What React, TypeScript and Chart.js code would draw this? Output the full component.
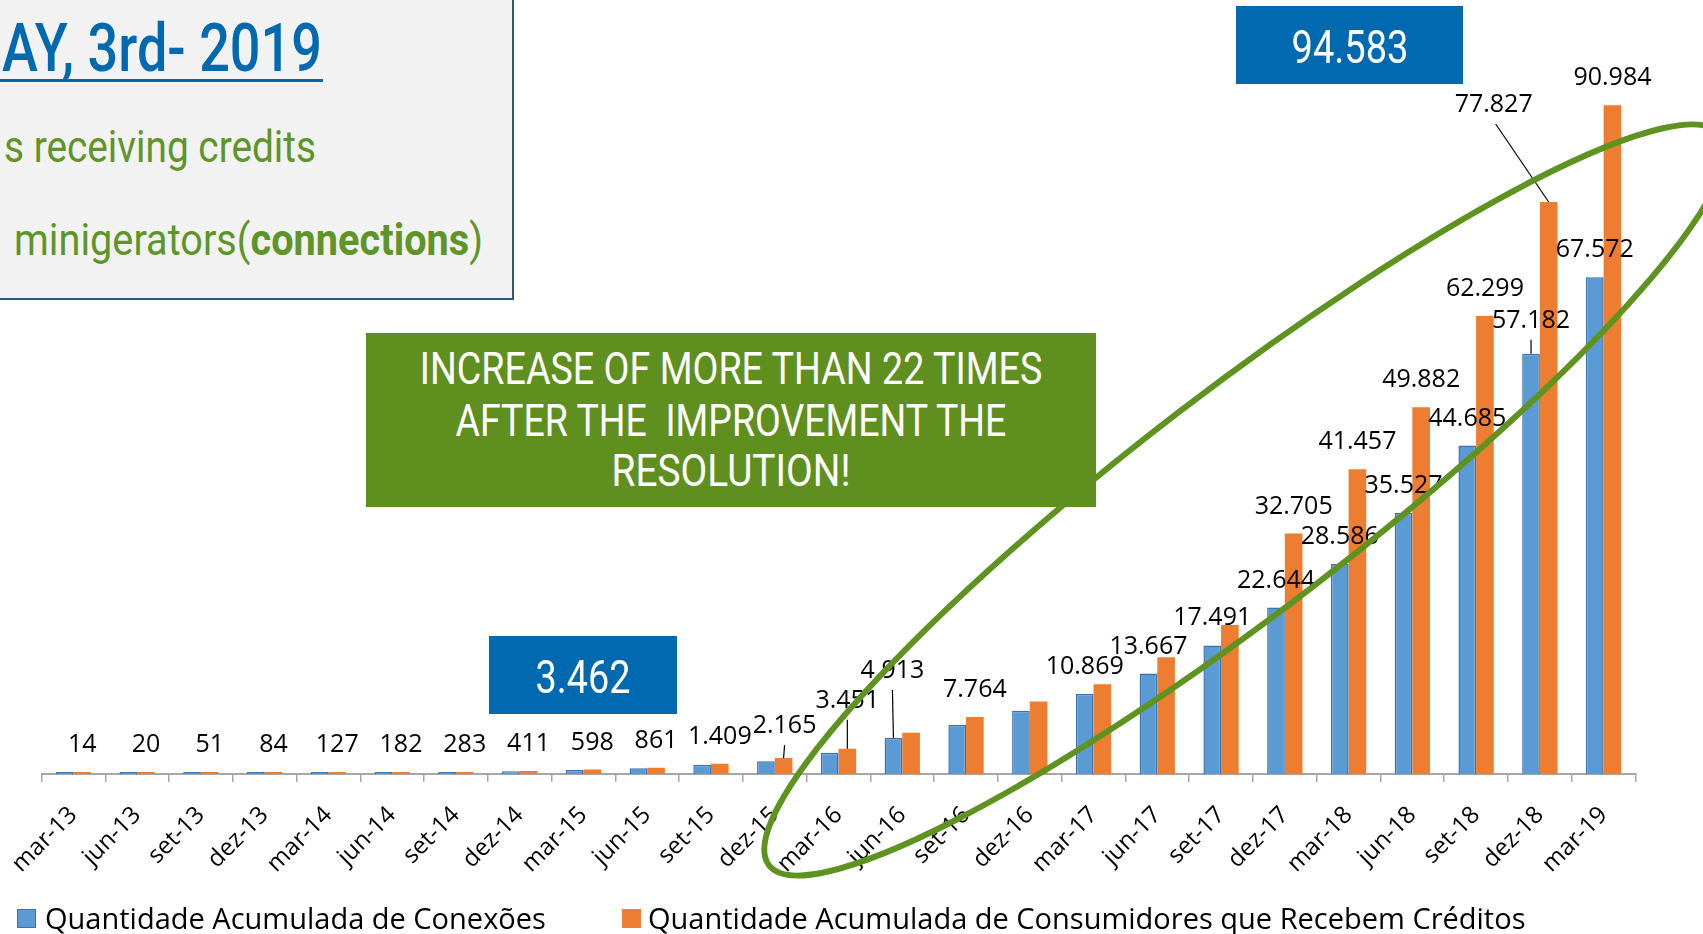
import React, { useEffect, useRef } from "react";
import { Chart, registerables } from "chart.js";

Chart.register(...registerables);

// ---------- data ----------
const categories = [
  "mar-13", "jun-13", "set-13", "dez-13", "mar-14", "jun-14", "set-14", "dez-14",
  "mar-15", "jun-15", "set-15", "dez-15", "mar-16", "jun-16", "set-16", "dez-16",
  "mar-17", "jun-17", "set-17", "dez-17", "mar-18", "jun-18", "set-18", "dez-18", "mar-19",
];

const conexoes = [
  9, 16, 40, 72, 112, 165, 255, 385, 555, 790, 1250, 1731, 2900, 4913, 6650, 8600,
  10869, 13667, 17491, 22644, 28586, 35527, 44685, 57182, 67572,
];

const consumidores = [
  14, 20, 51, 84, 127, 182, 283, 411, 598, 861, 1409, 2165, 3451, 5600, 7764, 9850,
  12200, 15880, 20270, 32705, 41457, 49882, 62299, 77827, 90984,
];

// which bars carry a value label
const conexoesLabelled = [
  false, false, false, false, false, false, false, false, false, false, false, false, false,
  true, false, false, true, true, true, true, true, true, true, true, true,
];
const consumidoresLabelled = [
  true, true, true, true, true, true, true, true, true, true, true, true, true,
  false, true, false, false, false, false, true, true, true, true, true, true,
];

const seriesNames = [
  "Quantidade Acumulada de Conexões",
  "Quantidade Acumulada de Consumidores que Recebem Créditos",
];

const titleText = "AY, 3rd- 2019";
const subtitleLine1 = "s receiving credits";
const subtitleLine2 = ["minigerators(", "connections", ")"];
const totalBadge = "94.583";
const startBadge = "3.462";
const calloutLines = ["INCREASE OF MORE THAN 22 TIMES", "AFTER THE  IMPROVEMENT THE", "RESOLUTION!"];

// labels that were dragged away from their bar (dx, dy in px), key = dataset-index
const movedLabels: Record<string, [number, number]> = {
  "1-11": [1, -5],
  "1-12": [0, -21],
  "1-23": [-55, -70],
  "0-13": [-1, -40],
  "0-23": [0, -6],
};

// ---------- styles ----------
const BLUE = "#5B9BD5";
const BLUE_EDGE = "#3A72B0";
const ORANGE = "#ED7D31";
const GREEN = "#5F8F1F";
const GREEN_TEXT = "#5F9428";
const BADGE_BLUE = "#0069AF";

function fmt(v: number): string {
  return String(v).replace(/\B(?=(\d{3})+(?!\d))/g, ".");
}

let mctx: CanvasRenderingContext2D | null = null;
function textWidth(text: string, font: string): number {
  if (!mctx) mctx = document.createElement("canvas").getContext("2d");
  mctx!.font = font;
  return mctx!.measureText(text).width;
}

type Part = [string, number];

function Cond(props: {
  x: number;
  baseline: number;
  size: number;
  width: number;
  color: string;
  parts: Part[];
  align?: "left" | "center";
}) {
  const { x, baseline, size, width, color, parts, align = "left" } = props;
  const natural = parts.reduce((a, [t, w]) => a + textWidth(t, `${w} ${size}px Roboto`), 0);
  const s = natural > 0 ? width / natural : 1;
  return (
    <div
      style={{
        position: "absolute",
        left: x,
        top: baseline - 0.8418 * size,
        fontFamily: "Roboto",
        fontSize: size,
        lineHeight: `${size}px`,
        whiteSpace: "pre",
        color,
        transformOrigin: align === "center" ? "50% 50%" : "0 50%",
        transform: align === "center" ? `translateX(-50%) scaleX(${s})` : `scaleX(${s})`,
      }}
    >
      {parts.map(([t, w], i) => (
        <span key={i} style={{ fontWeight: w }}>
          {t}
        </span>
      ))}
    </div>
  );
}

const valueLabelPlugin = {
  id: "valueLabels",
  afterDatasetsDraw(chart: any) {
    const ctx = chart.ctx as CanvasRenderingContext2D;
    const sets = [
      { values: conexoes, shown: conexoesLabelled },
      { values: consumidores, shown: consumidoresLabelled },
    ];
    ctx.save();
    ctx.font = '25px "Open Sans"';
    ctx.fillStyle = "#000";
    ctx.textAlign = "center";
    ctx.textBaseline = "alphabetic";
    sets.forEach((set, di) => {
      const meta = chart.getDatasetMeta(di);
      set.shown.forEach((show, i) => {
        if (!show) return;
        const bar = meta.data[i];
        const mv = movedLabels[`${di}-${i}`];
        const x = bar.x + (mv ? mv[0] : 0);
        const y = bar.y - 20 + (mv ? mv[1] : 0);
        if (mv) {
          ctx.beginPath();
          ctx.strokeStyle = "#000";
          ctx.lineWidth = 1.2;
          ctx.moveTo(x + (mv[0] < -10 ? 2 : 0), y + 12);
          ctx.lineTo(bar.x, bar.y);
          ctx.stroke();
        }
        ctx.fillText(fmt(set.values[i]), x, y);
      });
    });
    ctx.restore();
  },
};

function BarChart() {
  const ref = useRef<HTMLCanvasElement | null>(null);
  useEffect(() => {
    if (!ref.current) return;
    const chart = new Chart(ref.current, {
      type: "bar",
      data: {
        labels: categories,
        datasets: [
          {
            label: seriesNames[0],
            data: conexoes,
            backgroundColor: BLUE,
            borderColor: BLUE_EDGE,
            borderWidth: 1.5,
            categoryPercentage: 0.554,
            barPercentage: 1,
            minBarLength: 2,
          },
          {
            label: seriesNames[1],
            data: consumidores,
            backgroundColor: ORANGE,
            borderWidth: 0,
            categoryPercentage: 0.554,
            barPercentage: 1,
            minBarLength: 2,
          },
        ],
      },
      options: {
        animation: false,
        responsive: false,
        maintainAspectRatio: false,
        devicePixelRatio: 1,
        layout: { padding: { left: 41.5, right: 67.5, top: 39, bottom: 0 } },
        plugins: { legend: { display: false }, tooltip: { enabled: false } },
        scales: {
          x: {
            offset: true,
            grid: {
              display: true,
              drawOnChartArea: false,
              drawTicks: true,
              tickLength: 8,
              color: "#A6A6A6",
              lineWidth: 1.5,
              offset: true,
            },
            border: { display: true, color: "#A6A6A6", width: 2 },
            ticks: {
              color: "#000",
              font: { family: "Open Sans", size: 24 },
              minRotation: 45,
              maxRotation: 45,
              autoSkip: false,
              padding: 19,
            },
            afterFit: (s: any) => {
              s.height = 160;
              s.paddingLeft = 0;
              s.paddingRight = 0;
            },
          },
          y: { display: false, min: 0, max: 100000 },
        },
      },
      plugins: [valueLabelPlugin],
    } as any);
    return () => chart.destroy();
  }, []);
  return <canvas ref={ref} width={1703} height={934} style={{ position: "absolute", left: 0, top: 0 }} />;
}

export default function App() {
  return (
    <div
      style={{
        position: "fixed",
        left: 0,
        top: 0,
        width: 1703,
        height: 934,
        overflow: "hidden",
        background: "#fff",
      }}
    >
      <BarChart />
      <svg width={1703} height={934} style={{ position: "absolute", left: 0, top: 0, pointerEvents: "none" }}>
        <ellipse
          cx={1245}
          cy={500}
          rx={600}
          ry={110}
          transform="rotate(-37.5 1245 500)"
          fill="none"
          stroke="#5F9320"
          strokeWidth={6}
        />
      </svg>

      {/* green callout */}
      <div style={{ position: "absolute", left: 366, top: 333, width: 730, height: 174, background: GREEN }} />
      <Cond x={731} baseline={385} size={43.6} width={624} color="#fff" align="center" parts={[[calloutLines[0], 400]]} />
      <Cond x={731} baseline={436.5} size={43.6} width={553} color="#fff" align="center" parts={[[calloutLines[1], 400]]} />
      <Cond x={731} baseline={487} size={43.6} width={239} color="#fff" align="center" parts={[[calloutLines[2], 400]]} />

      {/* blue badges */}
      <div style={{ position: "absolute", left: 1236, top: 6, width: 227, height: 78, background: BADGE_BLUE }} />
      <Cond x={1349.5} baseline={63.3} size={46.5} width={117} color="#fff" align="center" parts={[[totalBadge, 400]]} />
      <div style={{ position: "absolute", left: 489, top: 636, width: 188, height: 78, background: BADGE_BLUE }} />
      <Cond x={583} baseline={693.3} size={46.5} width={95} color="#fff" align="center" parts={[[startBadge, 400]]} />

      {/* title box */}
      <div
        style={{
          position: "absolute",
          left: -4,
          top: -4,
          width: 518,
          height: 304,
          background: "#F2F2F2",
          border: "2.5px solid #2E5675",
          boxSizing: "border-box",
        }}
      />
      <Cond x={2} baseline={72} size={66} width={320} color={BADGE_BLUE} parts={[[titleText, 500]]} />
      <div style={{ position: "absolute", left: 0, top: 78.5, width: 323, height: 3, background: BADGE_BLUE }} />
      <Cond x={4} baseline={162} size={45} width={312} color={GREEN_TEXT} parts={[[subtitleLine1, 400]]} />
      <Cond
        x={14}
        baseline={255}
        size={45}
        width={469}
        color={GREEN_TEXT}
        parts={[
          [subtitleLine2[0], 400],
          [subtitleLine2[1], 700],
          [subtitleLine2[2], 400],
        ]}
      />

      {/* legend */}
      <div
        style={{
          position: "absolute",
          left: 17,
          top: 909,
          width: 19,
          height: 19,
          background: BLUE,
          border: `1.5px solid ${BLUE_EDGE}`,
          boxSizing: "border-box",
        }}
      />
      <div
        style={{
          position: "absolute",
          left: 45,
          top: 928.3 - 0.888 * 29,
          fontFamily: "Open Sans",
          fontSize: 29,
          lineHeight: "29px",
          whiteSpace: "pre",
          color: "#000",
        }}
      >
        {seriesNames[0]}
      </div>
      <div style={{ position: "absolute", left: 622, top: 909, width: 19, height: 19, background: ORANGE }} />
      <div
        style={{
          position: "absolute",
          left: 648,
          top: 928.3 - 0.888 * 29,
          fontFamily: "Open Sans",
          fontSize: 29,
          lineHeight: "29px",
          whiteSpace: "pre",
          color: "#000",
        }}
      >
        {seriesNames[1]}
      </div>
    </div>
  );
}
